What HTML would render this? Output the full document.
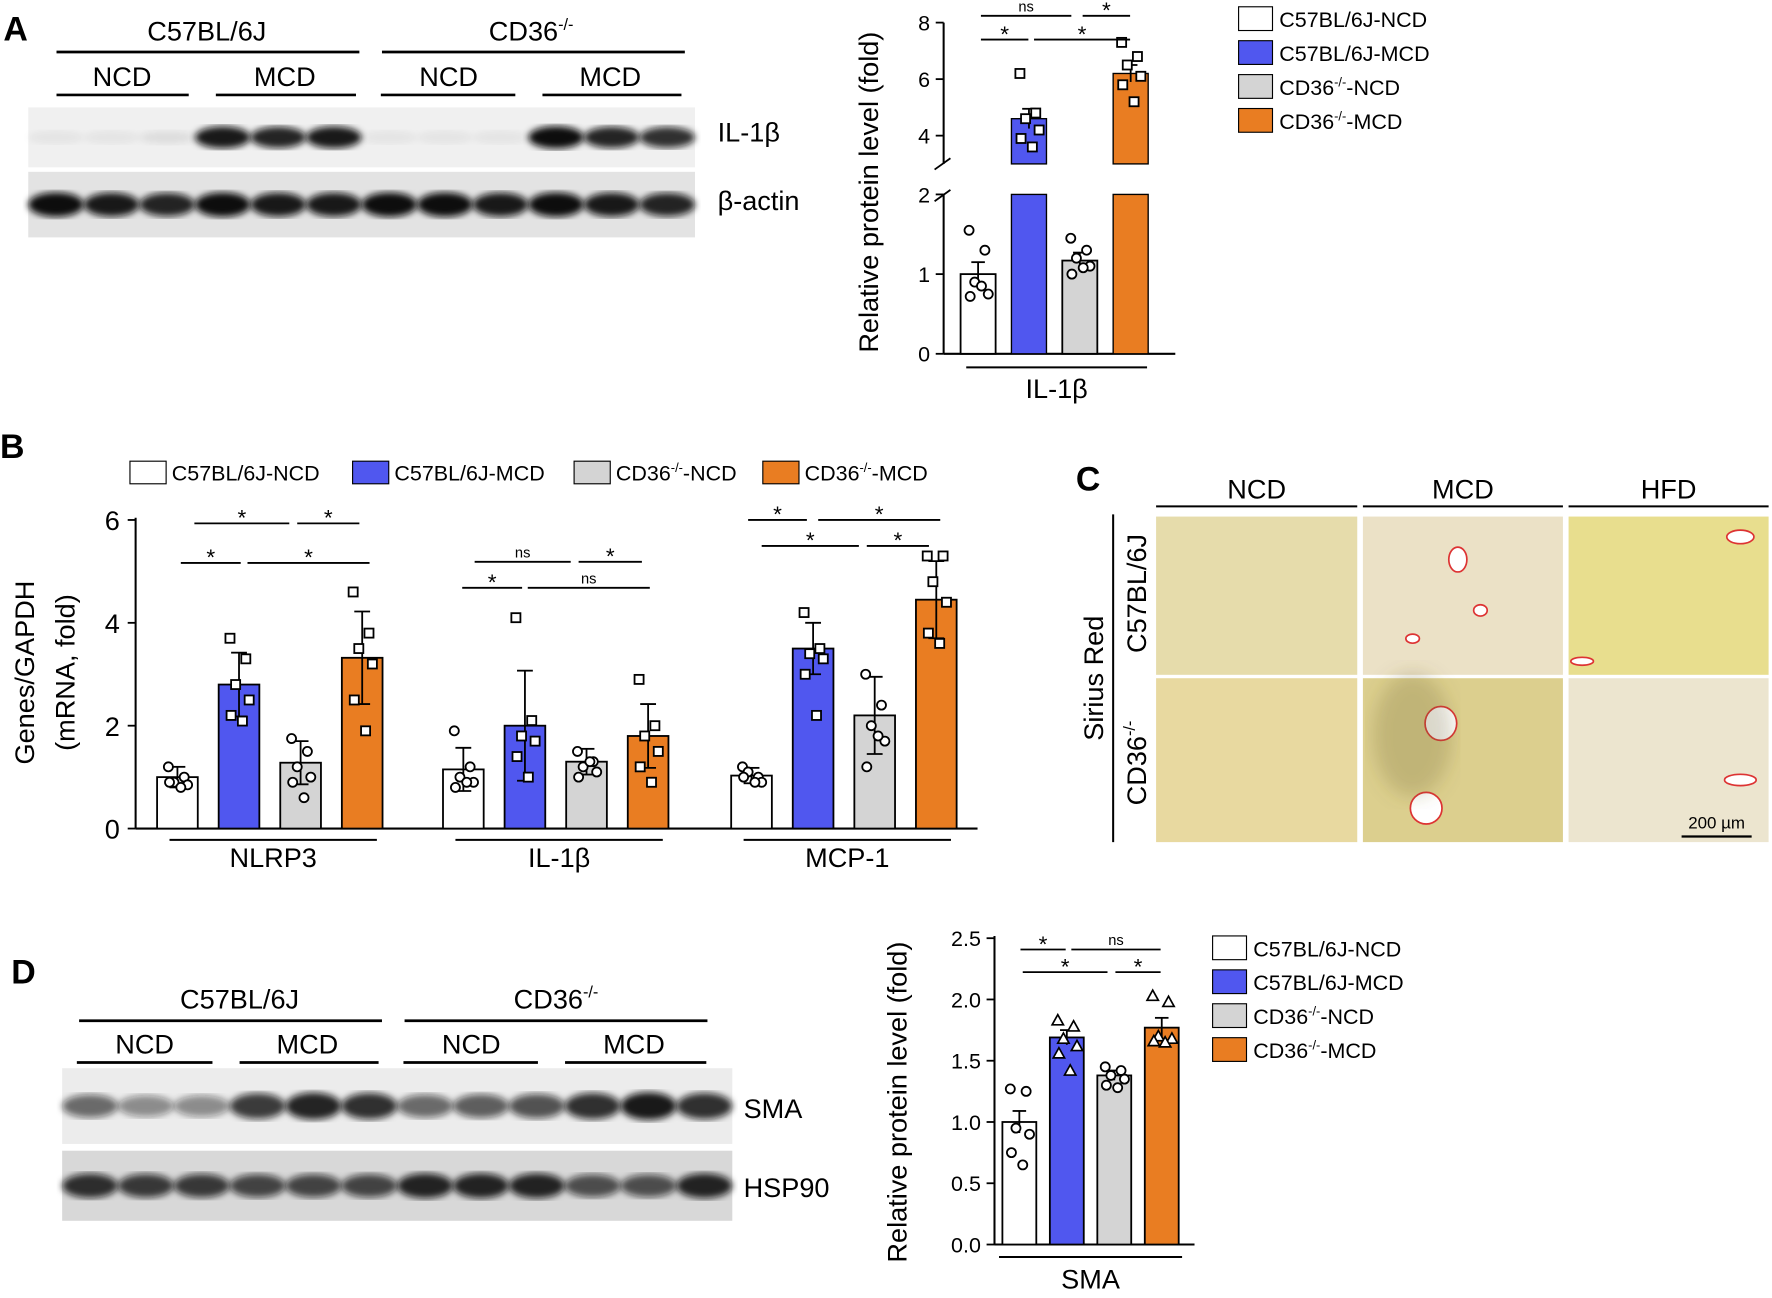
<!DOCTYPE html>
<html><head><meta charset="utf-8"><style>
html,body{margin:0;padding:0;background:#fff;width:1772px;height:1292px;overflow:hidden}
#wrap{position:absolute;left:0;top:0;width:1568px;height:1143px;transform:scale(1.13010,1.13036);transform-origin:0 0}
svg{font-family:"Liberation Sans",Arial,sans-serif}
</style></head><body>
<div id="wrap">
<svg id="fig" width="1568" height="1143" viewBox="0 0 1568 1143">
<defs>
<filter id="blur2"><feGaussianBlur stdDeviation="3"/></filter>
<filter id="blur8"><feGaussianBlur stdDeviation="8"/></filter>
</defs>
<g id="static">
<!-- Panel letters -->
<text x="3" y="36" font-size="30" font-weight="bold">A</text>
<text x="0" y="405" font-size="30" font-weight="bold">B</text>
<text x="952" y="434" font-size="30" font-weight="bold">C</text>
<text x="10" y="870" font-size="30" font-weight="bold">D</text>
</g>
<g id="blotA"></g>
<g id="chartA"></g>
<g id="chartB"></g>
<g id="panelC"></g>
<g id="blotD"></g>
<g id="chartD"></g>
</svg>
</div>
<script>
// ===== DATA =====
const groups = ["C57BL/6J-NCD","C57BL/6J-MCD","CD36-/--NCD","CD36-/--MCD"];
const colors = ["#ffffff","#5057ef","#d4d4d4","#e97d22"];
// Panel A
const aMeans = [1.0, 4.6, 1.17, 6.2];
const aErr = [0.15, 0.35, 0.1, 0.3];
const aPoints = [[1.55,1.3,0.9,0.75,0.72,0.85],[6.2,4.8,4.6,4.2,3.9,3.6],[1.45,1.3,1.2,1.1,1.0,1.08],[7.3,6.8,6.5,6.1,5.8,5.2]];
const aTicksLow = [0,1,2];
const aTicksHigh = [4,6,8];
// Panel B
const bGenes = ["NLRP3","IL-1β","MCP-1"];
const bMeans = [[1.0,2.8,1.28,3.32],[1.15,2.0,1.3,1.8],[1.03,3.5,2.2,4.45]];
const bErr = [[0.2,0.62,0.42,0.9],[0.42,1.07,0.25,0.62],[0.15,0.5,0.75,0.75]];
const bPoints = [
 [[1.2,1.0,0.9,0.85,0.9,0.8],[3.7,3.3,2.8,2.5,2.2,1.1*1.9],[1.75,1.5,1.2,1.0,0.9,0.6],[4.6,3.8,3.5,3.2,2.5,1.9]],
 [[1.9,1.2,1.0,0.9,0.8,0.9],[4.1,2.1,1.8,1.7,1.4,1.0],[1.5,1.3,1.2,1.1,1.0,1.3],[2.9,2.0,1.8,1.5,1.2,0.9]],
 [[1.2,1.0,1.1,0.9,1.0,0.9],[4.2,3.5,3.4,3.3,3.0,2.2],[3.0,2.4,2.0,1.7,1.2,1.8],[5.3,5.3,4.8,4.4,3.8,3.6]]];
const bTicks = [0,2,4,6];
// Panel D
const dMeans = [1.0, 1.69, 1.38, 1.77];
const dErr = [0.09, 0.06, 0.04, 0.08];
const dPoints = [[1.27,1.25,0.95,0.9,0.75,0.65],[1.83,1.78,1.68,1.62,1.56,1.42],[1.45,1.42,1.38,1.35,1.3,1.28],[2.03,1.98,1.7,1.68,1.66,1.65]];
const dTicks = [0.0,0.5,1.0,1.5,2.0,2.5];
const jit = [-8,6,-3,9,-7,3];

const NS="http://www.w3.org/2000/svg";
function mk(parent,tag,attrs,text){const e=document.createElementNS(NS,tag);for(const k in attrs)e.setAttribute(k,attrs[k]);if(text!==undefined)e.textContent=text;parent.appendChild(e);return e;}
function txt(p,x,y,s,fs,anchor,name,extra){const t=mk(p,'text',Object.assign({x:x,y:y,'font-size':fs,'text-anchor':anchor||'start'},extra||{}),s);

return t;}
function line(p,x1,y1,x2,y2,w,name){const l=mk(p,'line',{x1:x1,y1:y1,x2:x2,y2:y2,stroke:'#000','stroke-width':w||2});

return l;}
function sup(p,x,y,fs,anchor,name){ // CD36-/-
 const t=mk(p,'text',{x:x,y:y,'font-size':fs,'text-anchor':anchor||'start'});
 
 
 t.appendChild(document.createTextNode('CD36'));
 const s=mk(t,'tspan',{'font-size':fs*0.6,dy:-fs*0.4},'-/-');
 const r=mk(t,'tspan',{dy:fs*0.4},'');return t;}
function legendTxt(p,x,y,i,fs){
 const t=mk(p,'text',{x:x,y:y,'font-size':fs});
 
 
 if(i<2){t.textContent=groups[i];}
 else{t.appendChild(document.createTextNode('CD36'));mk(t,'tspan',{'font-size':fs*0.6,dy:-fs*0.4},'-/-');mk(t,'tspan',{dy:fs*0.4},i==2?'-NCD':'-MCD');}
 return t;}
function legendBox(p,x,y,w,h,i){const r=mk(p,'rect',{x:x,y:y,width:w,height:h,fill:colors[i],stroke:'#000','stroke-width':1});
 
 }
function sig(p,x1,x2,y,label,name){line(p,x1,y,x2,y,1.6,name+'-line');
 txt(p,(x1+x2)/2,label==='ns'?y-4:y+2,label,label==='ns'?13:20,'middle',name+'-label');}
function marker(p,x,y,shape,name){let e;
 if(shape==='c')e=mk(p,'circle',{cx:x,cy:y,r:4,fill:'#fff',stroke:'#000','stroke-width':1.6});
 else if(shape==='s')e=mk(p,'rect',{x:x-4,y:y-4,width:8,height:8,fill:'#fff',stroke:'#000','stroke-width':1.6});
 else e=mk(p,'polygon',{points:`${x},${y-5} ${x-5},${y+4} ${x+5},${y+4}`,fill:'#fff',stroke:'#000','stroke-width':1.5});
 
 }

// ===== Western blot helper =====
function blot(g,x0,x1,y0,y1,lanes,intens,name,bg){
 const r=mk(g,'rect',{x:x0,y:y0,width:x1-x0,height:y1-y0,fill:bg});
 
 
 const lw=(x1-x0)/lanes;const cy=(y0+y1)/2;
 for(let i=0;i<lanes;i++){const v=intens[i];if(v<=0)continue;
  const e=mk(g,'ellipse',{cx:x0+lw*(i+0.5),cy:cy,rx:lw*0.5,ry:(y1-y0)*0.17*(0.6+v*0.5),fill:`rgba(15,15,15,${Math.min(1,v)})`,filter:'url(#blur2)'});
  
  }
}
function blotHeader(g,x,yTop,lines,fs){
 // lines: [label,center,x1,x2,y]
}
// ===== Blot A =====
(function(){const g=document.getElementById('blotA');
 txt(g,183,36,'C57BL/6J',24,'middle','strain-label-c57');line(g,50,46,318,46,2.4,'strain-line-c57');
 sup(g,470,36,24,'middle','strain-label-cd36');line(g,338,46,606,46,2.4,'strain-line-cd36');
 [['NCD',108,50,167],['MCD',252,191,315],['NCD',397,337,456],['MCD',540,480,603]].forEach(a=>{txt(g,a[1],76,a[0],24,'middle','diet-label');line(g,a[2],84,a[3],84,2.4,'diet-line');});
 blot(g,25,615,95,148,12,[0.05,0.05,0.08,0.95,0.9,0.95,0.05,0.05,0.05,1,0.9,0.85],'il1b','#f0f0f0');
 blot(g,25,615,152,210,12,[1,0.95,0.9,1,0.95,0.95,1,1,0.95,1,0.95,0.9],'bactin','#e3e3e3');
 txt(g,635,125,'IL-1β',24,'start','blot-label-il1b');txt(g,635,186,'β-actin',24,'start','blot-label-bactin');
})();

// ===== Chart A =====
(function(){const g=document.getElementById('chartA');
 const ax=835, y0=313, lowS=70.5, hiY4=120, hiS=25, base=850, step=45, bw=31;
 const yLow=v=>y0-v*lowS, yHi=v=>hiY4-(v-4)*hiS;
 line(g,ax,y0,ax,172,1.8,'y-axis-lower');line(g,ax,145,ax,20,1.8,'y-axis-upper');
 line(g,ax-8,150,ax+6,140,1.6,'axis-break');line(g,ax-8,178,ax+6,168,1.6,'axis-break');
 line(g,ax,y0,1040,y0,1.8,'x-axis');
 aTicksLow.forEach(v=>{line(g,ax-7,yLow(v),ax,yLow(v),1.6,'y-tick');txt(g,ax-12,yLow(v)+7,String(v),19,'end','y-tick-label');});
 aTicksHigh.forEach(v=>{line(g,ax-7,yHi(v),ax,yHi(v),1.6,'y-tick');txt(g,ax-12,yHi(v)+7,String(v),19,'end','y-tick-label');});
 txt(g,0,0,'Relative protein level (fold)',24,'middle','y-axis-title',{transform:'translate(777,170) rotate(-90)'});
 const yv=v=>v<=2?yLow(v):yHi(Math.max(v,3));
 aMeans.forEach((m,i)=>{const x=base+i*step;
  if(m<=2){const r=mk(g,'rect',{x:x,y:yLow(m),width:bw,height:y0-yLow(m),fill:colors[i],stroke:'#000','stroke-width':1.6});}
  else{const r1=mk(g,'rect',{x:x,y:172,width:bw,height:y0-172,fill:colors[i],stroke:'#000','stroke-width':1.2});
   const r2=mk(g,'rect',{x:x,y:yHi(m),width:bw,height:145-yHi(m),fill:colors[i],stroke:'#000','stroke-width':1.2});}
  const c=x+bw/2;line(g,c,yv(m-aErr[i]),c,yv(m+aErr[i]),1.6,'error-bar');line(g,c-6,yv(m+aErr[i]),c+6,yv(m+aErr[i]),1.6,'error-cap');
  aPoints[i].forEach((p,j)=>marker(g,c+jit[j],yv(p),i%2?'s':'c','data-point'));
 });
 line(g,855,325,1015,325,1.8,'x-group-line');txt(g,935,352,'IL-1β',24,'middle','x-group-label');
 sig(g,868,948,14,'ns','sig-ns-1');sig(g,958,1000,14,'*','sig-star-1');sig(g,868,910,35,'*','sig-star-2');sig(g,915,1000,35,'*','sig-star-3');
 for(let i=0;i<4;i++){legendBox(g,1096,6+i*30,30,21,i);legendTxt(g,1132,24+i*30,i,19);}
})();

// ===== Chart B =====
(function(){const g=document.getElementById('chartB');
 const ax=120,y0=733,s=45.5,bw=36;const y=v=>y0-v*s;
 const starts=[139,392,647];const step=54.5;
 for(let i=0;i<4;i++){const lx=[115,312,508,675][i];legendBox(g,lx,408,32,20,i);legendTxt(g,lx+37,425,i,19);}
 line(g,ax,y0,ax,458,1.8,'y-axis');line(g,ax,y0,865,y0,1.8,'x-axis');
 bTicks.forEach(v=>{line(g,ax-7,y(v),ax,y(v),1.6,'y-tick');txt(g,ax-14,y(v)+9,String(v),24,'end','y-tick-label');});
 txt(g,0,0,'Genes/GAPDH',24,'middle','y-axis-title',{transform:'translate(30,595) rotate(-90)'});
 txt(g,0,0,'(mRNA, fold)',24,'middle','y-axis-title-2',{transform:'translate(66,595) rotate(-90)'});
 bGenes.forEach((gn,k)=>{
  bMeans[k].forEach((m,i)=>{const x=starts[k]+i*step;
   const r=mk(g,'rect',{x:x,y:y(m),width:bw,height:y0-y(m),fill:colors[i],stroke:'#000','stroke-width':1.6});
   
   
   const c=x+bw/2,e=bErr[k][i];line(g,c,y(m-e),c,y(m+e),1.6,'error-bar');line(g,c-7,y(m+e),c+7,y(m+e),1.6,'error-cap');line(g,c-7,y(m-e),c+7,y(m-e),1.6,'error-cap');
   bPoints[k][i].forEach((p,j)=>marker(g,c+jit[j],y(p),i%2?'s':'c','data-point'));
  });
  const x1=starts[k]+11, x2=starts[k]+3*step+bw-11+6;
  line(g,x1,743,x2,743,1.8,'x-group-line');txt(g,(x1+x2)/2,767,gn,24,'middle','x-group-label');
 });
 sig(g,172,256,463,'*','s1');sig(g,263,318,463,'*','s2');sig(g,160,213,498,'*','s3');sig(g,219,327,498,'*','s4');
 sig(g,420,505,497,'ns','s5');sig(g,512,568,497,'*','s6');sig(g,409,462,520,'*','s7');sig(g,467,575,520,'ns','s8');
 sig(g,662,714,460,'*','s9');sig(g,724,832,460,'*','s10');sig(g,674,760,483,'*','s11');sig(g,767,822,483,'*','s12');
})();

// ===== Panel C =====
(function(){const g=document.getElementById('panelC');
 const cols=[[1023,1201],[1206,1383],[1388,1565]];const rows=[[457,597],[600,745]];
 const fills=[['#e6dcab','#ebe1c6','#e8de8e'],['#e8d9a0','#dccf8e','#ece5cf']];
 ['NCD','MCD','HFD'].forEach((h,i)=>{txt(g,(cols[i][0]+cols[i][1])/2,441,h,24,'middle','column-header');line(g,cols[i][0],448,cols[i][1],448,1.8,'column-line');});
 rows.forEach((r,ri)=>cols.forEach((c,ci)=>{const im=mk(g,'rect',{x:c[0],y:r[0],width:c[1]-c[0],height:r[1]-r[0],fill:fills[ri][ci]});
  
  }));
 // some features
 const blobs=[[1290,495,8,22],[1275,640,14,30],[1262,715,14,28],[1540,475,12,12],[1540,690,14,10],[1310,540,6,10],[1250,565,6,8],[1400,585,10,7]];
 blobs.forEach(b=>{const e=mk(g,'ellipse',{cx:b[0],cy:b[1],rx:b[2],ry:b[3]/2,fill:'#fff',stroke:'#d33','stroke-width':1.5});});
 const sh=mk(g,'ellipse',{cx:1250,cy:650,rx:35,ry:55,fill:'rgba(110,100,50,0.25)',filter:'url(#blur8)'});
 line(g,985,455,985,745,1.8,'row-line');
 txt(g,0,0,'Sirius Red',24,'middle','stain-label',{transform:'translate(976,600) rotate(-90)'});
 txt(g,0,0,'C57BL/6J',24,'middle','row-label-c57',{transform:'translate(1014,525) rotate(-90)'});
 sup(g,0,0,24,'middle','row-label-cd36').setAttribute('transform','translate(1014,675) rotate(-90)');
 txt(g,1519,733,'200 µm',15,'middle','scale-bar-label');line(g,1488,740,1550,740,2,'scale-bar');
})();

// ===== Blot D =====
(function(){const g=document.getElementById('blotD');
 txt(g,212,892,'C57BL/6J',24,'middle','strain-label-c57');line(g,70,903,338,903,2.4,'strain-line-c57');
 sup(g,492,892,24,'middle','strain-label-cd36');line(g,358,903,626,903,2.4,'strain-line-cd36');
 [['NCD',128,68,188],['MCD',272,212,335],['NCD',417,357,476],['MCD',561,500,625]].forEach(a=>{txt(g,a[1],932,a[0],24,'middle','diet-label');line(g,a[2],940,a[3],940,2.4,'diet-line');});
 blot(g,55,648,945,1012,12,[0.6,0.45,0.45,0.8,0.9,0.85,0.6,0.65,0.7,0.85,0.95,0.85],'sma','#ececec');
 blot(g,55,648,1018,1080,12,[0.85,0.8,0.8,0.75,0.75,0.75,0.9,0.9,0.9,0.7,0.7,0.9],'hsp90','#d8d8d8');
 txt(g,658,989,'SMA',24,'start','blot-label-sma');txt(g,658,1059,'HSP90',24,'start','blot-label-hsp90');
})();

// ===== Chart D =====
(function(){const g=document.getElementById('chartD');
 const ax=880,y0=1101,s=108.4,bw=30,base=887,step=42;const y=v=>y0-v*s;
 line(g,ax,y0,ax,828,1.8,'y-axis');line(g,ax,y0,1057,y0,1.8,'x-axis');
 dTicks.forEach(v=>{line(g,ax-7,y(v),ax,y(v),1.6,'y-tick');txt(g,ax-12,y(v)+7,v.toFixed(1),19,'end','y-tick-label');});
 txt(g,0,0,'Relative protein level (fold)',24,'middle','y-axis-title',{transform:'translate(802,975) rotate(-90)'});
 dMeans.forEach((m,i)=>{const x=base+i*step;
  const r=mk(g,'rect',{x:x,y:y(m),width:bw,height:y0-y(m),fill:colors[i],stroke:'#000','stroke-width':1.6});
  
  
  const c=x+bw/2,e=dErr[i];line(g,c,y(m-e),c,y(m+e),1.6,'error-bar');line(g,c-6,y(m+e),c+6,y(m+e),1.6,'error-cap');
  dPoints[i].forEach((p,j)=>marker(g,c+jit[j],y(p),i%2?'t':'c','data-point'));
 });
 line(g,884,1112,1046,1112,1.8,'x-group-line');txt(g,965,1140,'SMA',24,'middle','x-group-label');
 sig(g,903,943,840,'*','d1');sig(g,948,1027,840,'ns','d2');sig(g,905,980,860,'*','d3');sig(g,987,1027,860,'*','d4');
 for(let i=0;i<4;i++){legendBox(g,1073,828+i*30,30,21,i);legendTxt(g,1109,846+i*30,i,19);}
})();
</script>
</body></html>
